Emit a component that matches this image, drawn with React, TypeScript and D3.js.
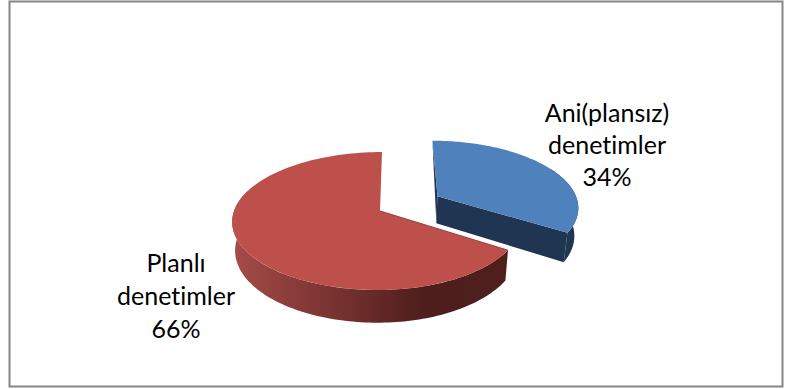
import React from "react";
import * as d3 from "d3";

const categories = ["Ani(plansız) denetimler", "Planlı denetimler"];
const shares = [34, 66];
const labelLines = [
  ["Ani(plansız)", "denetimler", "34%"],
  ["Planlı", "denetimler", "66%"],
];
const topColors = ["#4F81BD", "#BE504C"];
const blueWall = "#1F3552";
const redRimStops: [number, string][] = [
  [0, "#A84C48"],
  [0.2, "#8C3E3B"],
  [0.45, "#6E2E2C"],
  [0.7, "#4E1E1C"],
  [1, "#4F1F1D"],
];

const width = 794;
const height = 389;

// Perspective projection of the pie's unit disc onto the page.
const cx = 380;
const cy = 211;
const scaleLeft = 146;
const scaleRightBlue = 143;
const scaleRightRed = 141;
const scaleDepth = 67.5;
const shear = 2;
const persp = 0.145;
const thickness = 28;
const lowerShrink = 0.98;
const explode = 0.47;

type P = [number, number];
const project = (x: number, y: number, right: number, drop = 0): P => {
  const d = 1 + persp * y;
  const a = x < 0 ? scaleLeft : right;
  const k = drop ? lowerShrink : 1;
  return [cx + (k * a * x) / d + shear * y, cy - (scaleDepth * y) / d + (drop * thickness) / d];
};

const line = d3.line<P>();
const pieAngles = d3.pie<number>().sort(null).startAngle(0).endAngle(2 * Math.PI)(shares);

const rim = (a0: number, a1: number, ox: number, oy: number, right: number, drop = 0): P[] =>
  d3.range(0, 121).map((i) => {
    const t = a0 + ((a1 - a0) * i) / 120;
    return project(ox + Math.sin(t), oy + Math.cos(t), right, drop);
  });

export default function App() {
  const blue = pieAngles[0];
  const red = pieAngles[1];
  const mid = (blue.startAngle + blue.endAngle) / 2;
  const ox = Math.sin(mid) * explode;
  const oy = Math.cos(mid) * explode;
  const rb = scaleRightBlue;
  const rr = scaleRightRed;

  const blueTop = rim(blue.startAngle, blue.endAngle, ox, oy, rb);
  const blueApex = project(ox, oy, rb);
  const blueApexLow = project(ox, oy, rb, 1);
  const blueEndLow = project(ox + Math.sin(blue.endAngle), oy + Math.cos(blue.endAngle), rb, 1);
  const blueEnd = blueTop[blueTop.length - 1];
  const blueRimHigh = rim(blue.startAngle + 1.1, blue.endAngle, ox, oy, rb);
  const blueRimLow = rim(blue.startAngle + 1.1, blue.endAngle, ox, oy, rb, 1);

  const redTop = rim(red.startAngle, red.endAngle, 0, 0, rr);
  const redApex = project(0, 0, rr);
  const redSide = rim(red.startAngle, Math.PI * 1.6, 0, 0, rr);
  const redSideLow = rim(red.startAngle, Math.PI * 1.6, 0, 0, rr, 1);

  return (
    <svg
      width={width}
      height={height}
      style={{ position: "absolute", left: 0, top: 0, background: "#fff" }}
      fontFamily="Lato, 'Open Sans', sans-serif"
    >
      <defs>
        <linearGradient id="redRim" gradientUnits="userSpaceOnUse" x1={232} x2={507} y1={0} y2={0}>
          {redRimStops.map(([o, c]) => (
            <stop key={o} offset={o} stopColor={c} />
          ))}
        </linearGradient>
      </defs>
      <rect x={9.5} y={1.5} width={773} height={385} fill="#fff" stroke="#868686" strokeWidth={2} />

      <g aria-label={categories[1]}>
        <path d={line([...redSide, ...redSideLow.slice().reverse()])! + "Z"} fill="url(#redRim)" />
        <path d={line([redApex, ...redTop])! + "Z"} fill={topColors[1]} />
        <path d={line([redTop[0], redApex])!} stroke="#9C4341" strokeWidth={1.2} fill="none" />
      </g>

      <g aria-label={categories[0]}>
        <path d={line([...blueRimHigh, ...blueRimLow.slice().reverse()])! + "Z"} fill={blueWall} />
        <path d={line([blueApex, blueEnd, blueEndLow, blueApexLow])! + "Z"} fill={blueWall} />
        <path d={line([blueTop[0], blueApex, blueApexLow])! + "Z"} fill={blueWall} />
        <path d={line([blueApex, ...blueTop])! + "Z"} fill={topColors[0]} />
      </g>

      <g fontSize={25} fill="#000" textAnchor="middle" style={{ fontVariantLigatures: "none" }}>
        {labelLines[0].map((t, i) => (
          <text key={t} x={607} y={122 + i * 32}>{t}</text>
        ))}
        {labelLines[1].map((t, i) => (
          <text key={t} x={176} y={272 + i * 33}>{t}</text>
        ))}
      </g>
    </svg>
  );
}
